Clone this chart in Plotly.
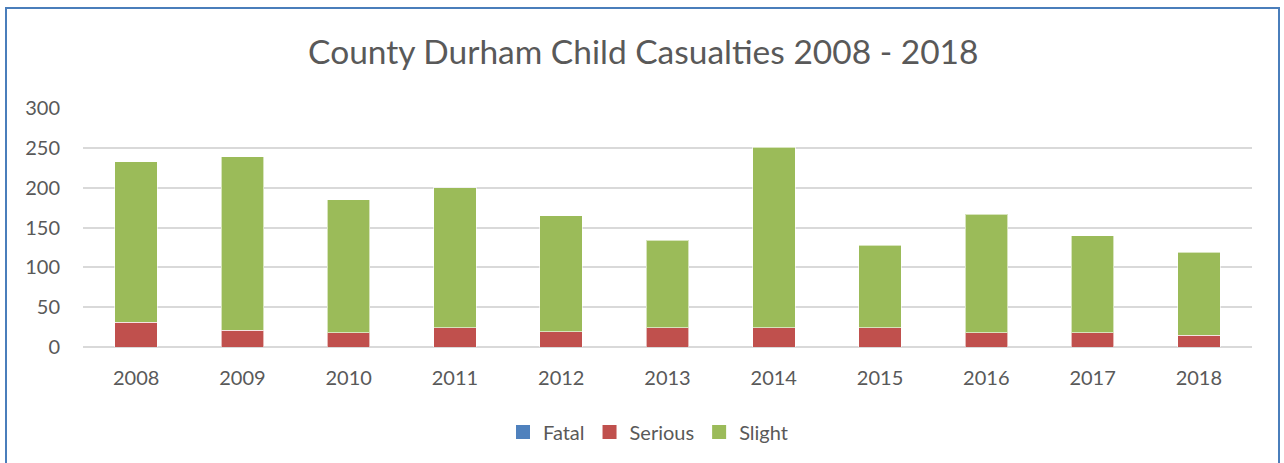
import plotly.graph_objects as go

years = ["2008", "2009", "2010", "2011", "2012", "2013", "2014", "2015", "2016", "2017", "2018"]
fatal = [0, 0, 0, 0, 0, 0, 0, 0, 0, 0, 0]
serious = [31, 21, 18, 24, 19, 24, 24, 24, 18, 18, 15]
slight = [202, 218, 167, 176, 146, 110, 227, 104, 149, 122, 104]

W, H = 1284, 463
L, R, T, B = 83, 1252, 108, 347
pw, ph = R - L, B - T

font_family = "Lato, 'Open Sans', sans-serif"
grey = "#595959"

series = [("Fatal", fatal, "#4f81bd"), ("Serious", serious, "#c0504d"), ("Slight", slight, "#9bbb59")]

fig = go.Figure()
for name, vals, col in series:
    fig.add_trace(go.Bar(x=years, y=vals, name=name, showlegend=False,
                         marker=dict(color=col, line=dict(color="rgba(255,255,255,0.6)", width=1))))
# legend entries with larger square swatches
for name, vals, col in series:
    fig.add_trace(go.Scatter(x=[None], y=[None], mode="markers", name=name,
                             marker=dict(symbol="square", size=14, color=col)))

fig.update_layout(
    width=W, height=H,
    barmode="stack", bargap=0.6,
    margin=dict(l=L, r=W - R, t=T, b=H - B),
    paper_bgcolor="white", plot_bgcolor="white",
    font=dict(family=font_family, color=grey, size=20),
    title=dict(text="County Durham Child Casualties 2008 - 2018", x=0.501, xanchor="center",
               y=1 - 52 / H, yanchor="middle", font=dict(size=33.5, color=grey, family=font_family)),
    legend=dict(orientation="h", x=(648 - L) / pw, xanchor="center", y=(B - 432) / ph, yanchor="middle",
                font=dict(size=20, color=grey), traceorder="normal", itemwidth=30),
    showlegend=True,
)
fig.update_xaxes(showgrid=False, showline=False, ticks="", tickfont=dict(size=20, color=grey), ticklabelstandoff=17)
fig.update_yaxes(range=[0, 300.6], tickvals=[0, 50, 100, 150, 200, 250, 300], showgrid=True, gridcolor="#d9d9d9",
                 gridwidth=1.5, zeroline=True, zerolinecolor="#d9d9d9", zerolinewidth=1.5, showline=False, ticks="",
                 tickfont=dict(size=20, color=grey), ticklabelstandoff=22)

fig.add_shape(type="rect", xref="paper", yref="paper",
              x0=(6 - L) / pw, x1=(1279 - L) / pw, y0=(B - 480) / ph, y1=(B - 8) / ph,
              line=dict(color="#4a7ebb", width=2), fillcolor="rgba(0,0,0,0)", layer="below")

fig.write_html("out.html", config={"displayModeBar": False},
               post_script="document.body.style.margin='0px';document.body.style.overflow='hidden';")
